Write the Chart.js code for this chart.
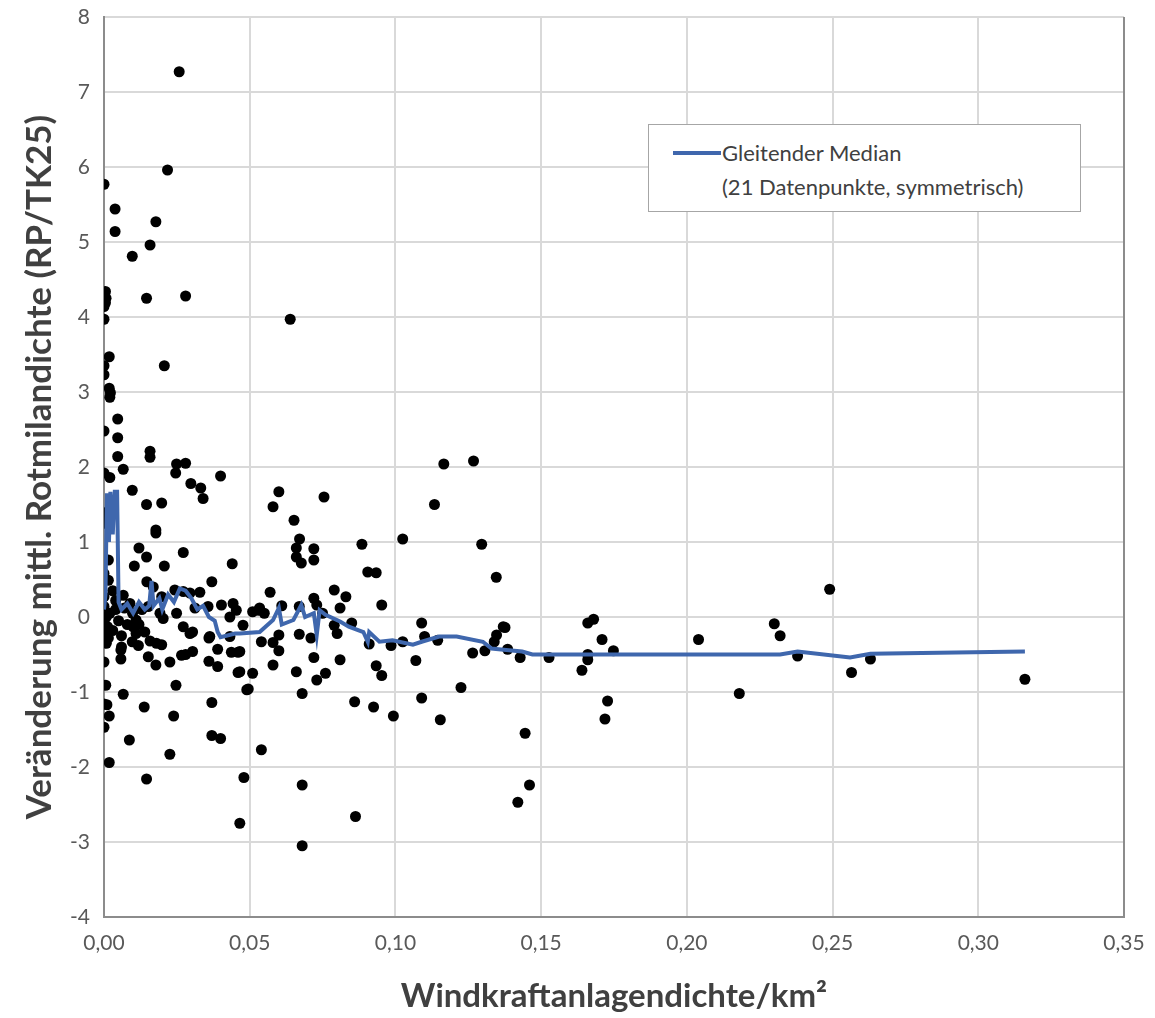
<!DOCTYPE html>
<html lang="de">

<head>
  <meta charset="UTF-8" />
  <title>Rotmilandichte vs Windkraftanlagendichte</title>
  <script src="https://cdn.jsdelivr.net/npm/chart.js"></script>
  <style>
    html, body {
      margin: 0;
      padding: 0;
      background: #ffffff;
    }

    .wrap {
      position: relative;
      width: 1155px;
      height: 1018px;
    }

    .legend {
      position: absolute;
      left: 648px;
      top: 124px;
      width: 433px;
      height: 88px;
      background: #ffffff;
      border: 1px solid #a6a6a6;
      font-family: Lato, "Open Sans", sans-serif;
      font-size: 22px;
      color: #404040;
      box-sizing: border-box;
    }

    .legend .swatch {
      position: absolute;
      left: 24px;
      top: 26px;
      width: 48px;
      height: 0;
      border-top: 4px solid #3f67ad;
    }

    .legend .text {
      position: absolute;
      left: 73px;
      top: 11px;
      line-height: 34px;
      white-space: nowrap;
    }
  </style>
</head>

<body>
  <div class="wrap">
    <canvas id="chart" width="1155" height="1018"></canvas>
    <div class="legend">
      <div class="swatch"></div>
      <div class="text">Gleitender Median<br>(21 Datenpunkte, symmetrisch)</div>
    </div>
  </div>

  <script>
    // scatter points: wind turbine density per km² vs. change in red kite density
    const densityX = [
      0.0258, 0.0218, 0.000, 0.0038, 0.0178, 0.0038, 0.0158, 0.0097, 0.0005, 0.0007,
      0.0005, 0.000, 0.0146, 0.028, 0.0639, 0.000, 0.0018, 0.000, 0.0207, 0.000,
      0.0018, 0.0022, 0.002, 0.0047, 0.000, 0.0047, 0.0047, 0.0158, 0.0158, 0.0066,
      0.0249, 0.028, 0.0246, 0.000, 0.002, 0.040, 0.0298, 0.0332, 0.034, 0.0097,
      0.0146, 0.0198, 0.000, 0.000, 0.0178, 0.0178, 0.060, 0.058, 0.0755, 0.0652,
      0.0671, 0.066, 0.066, 0.0677, 0.072, 0.072, 0.012, 0.0146, 0.0104, 0.0272,
      0.0207, 0.044, 0.037, 0.057, 0.079, 0.083, 0.1166, 0.1268, 0.1134, 0.0885,
      0.1025, 0.1296, 0.0905, 0.0934, 0.1346, 0.0953, 0.109, 0.137, 0.081, 0.085,
      0.072, 0.073, 0.051, 0.053, 0.055, 0.061, 0.067, 0.060, 0.058, 0.060,
      0.054, 0.067, 0.071, 0.080, 0.091, 0.0985, 0.1025, 0.110, 0.1145, 0.0466,
      0.0466, 0.051, 0.0495, 0.058, 0.066, 0.072, 0.073, 0.076, 0.081, 0.068,
      0.0934, 0.0953, 0.107, 0.1225, 0.109, 0.086, 0.0925, 0.0993, 0.1154, 0.1265,
      0.1307, 0.1339, 0.1347, 0.1376, 0.1385, 0.1428, 0.1527, 0.1445, 0.146, 0.142,
      0.054, 0.048, 0.068, 0.0466, 0.0863, 0.068, 0.000, 0.0058, 0.0058, 0.0006,
      0.000, 0.001, 0.0018, 0.000, 0.0066, 0.0018, 0.0087, 0.0138, 0.0146, 0.0247,
      0.0239, 0.0226, 0.037, 0.037, 0.040, 0.046, 0.049, 0.036, 0.039, 0.039,
      0.0437, 0.046, 0.0266, 0.028, 0.0304, 0.0226, 0.0178, 0.0152, 0.0097, 0.0118,
      0.0158, 0.018, 0.0198, 0.036, 0.0304, 0.0477, 0.000, 0.0015, 0.0015, 0.000,
      0.000, 0.0008, 0.000, 0.0012, 0.000, 0.0015, 0.0008, 0.0066, 0.0089, 0.0098,
      0.011, 0.010, 0.011, 0.0169, 0.0198, 0.0152, 0.0192, 0.0203, 0.0243, 0.0272,
      0.0295, 0.0329, 0.0312, 0.0249, 0.0272, 0.0295, 0.0357, 0.0403, 0.0443, 0.0454,
      0.0432, 0.0534, 0.0363, 0.0432, 0.075, 0.079, 0.003, 0.004, 0.005, 0.003,
      0.006, 0.007, 0.004, 0.008, 0.002, 0.006, 0.012, 0.013, 0.014, 0.0147,
      0.164, 0.166, 0.168, 0.166, 0.166, 0.1709, 0.1748, 0.1728, 0.1719, 0.204,
      0.218, 0.230, 0.232, 0.238, 0.249, 0.2565, 0.263, 0.316
    ];
    const changeY = [
      7.27, 5.96, 5.77, 5.44, 5.27, 5.14, 4.96, 4.81, 4.34, 4.25,
      4.19, 4.14, 4.25, 4.28, 3.97, 3.97, 3.47, 3.35, 3.35, 3.23,
      3.05, 2.99, 2.93, 2.64, 2.48, 2.39, 2.14, 2.21, 2.13, 1.97,
      2.04, 2.05, 1.92, 1.92, 1.86, 1.88, 1.78, 1.72, 1.58, 1.69,
      1.50, 1.52, 1.39, 1.25, 1.16, 1.12, 1.67, 1.47, 1.60, 1.29,
      1.04, 0.92, 0.80, 0.72, 0.91, 0.76, 0.92, 0.80, 0.68, 0.86,
      0.68, 0.71, 0.47, 0.33, 0.36, 0.27, 2.04, 2.08, 1.50, 0.97,
      1.04, 0.97, 0.60, 0.59, 0.53, 0.16, -0.08, -0.13, 0.12, -0.08,
      0.25, 0.16, 0.07, 0.09, 0.05, 0.15, 0.14, -0.24, -0.34, -0.45,
      -0.33, -0.23, -0.28, -0.22, -0.36, -0.38, -0.33, -0.26, -0.31, -0.46,
      -0.73, -0.75, -0.96, -0.64, -0.73, -0.54, -0.84, -0.75, -0.57, -1.02,
      -0.65, -0.78, -0.58, -0.94, -1.08, -1.13, -1.20, -1.32, -1.37, -0.48,
      -0.45, -0.33, -0.24, -0.14, -0.43, -0.54, -0.54, -1.55, -2.24, -2.47,
      -1.77, -2.14, -2.24, -2.75, -2.66, -3.05, -0.60, -0.44, -0.56, -0.91,
      -1.16, -1.17, -1.32, -1.47, -1.03, -1.94, -1.64, -1.20, -2.16, -0.91,
      -1.32, -1.83, -1.14, -1.58, -1.62, -0.74, -0.97, -0.59, -0.66, -0.43,
      -0.47, -0.47, -0.51, -0.50, -0.46, -0.60, -0.64, -0.53, -0.33, -0.38,
      -0.32, -0.35, -0.37, -0.28, -0.20, -0.11, 0.58, 0.76, 0.49, 0.27,
      0.14, 0.00, -0.08, -0.13, -0.22, -0.28, -0.35, 0.29, 0.18, 0.05,
      -0.04, -0.13, -0.22, 0.40, 0.27, 0.14, 0.05, -0.02, 0.36, 0.34,
      0.32, 0.33, 0.12, 0.05, -0.13, -0.22, 0.14, 0.16, 0.18, 0.09,
      0.00, 0.12, -0.26, -0.26, 0.05, -0.11, 0.35, 0.10, -0.05, -0.18,
      -0.25, 0.12, 0.22, -0.10, 0.05, -0.40, -0.10, 0.10, -0.20, 0.47,
      -0.71, -0.08, -0.03, -0.57, -0.50, -0.30, -0.45, -1.12, -1.36, -0.30,
      -1.02, -0.09, -0.25, -0.52, 0.37, -0.74, -0.56, -0.83
    ];

    // moving median (21 points, symmetric)
    const medianX = [
      0.000, 0.0005, 0.001, 0.0017, 0.0022, 0.003, 0.0037, 0.0045, 0.005, 0.006,
      0.008, 0.010, 0.012, 0.014, 0.0155, 0.0163, 0.017, 0.019, 0.020, 0.022,
      0.024, 0.026, 0.028, 0.030, 0.032, 0.034, 0.036, 0.038, 0.039, 0.040,
      0.045, 0.0466, 0.0534, 0.058, 0.060, 0.061, 0.065, 0.0677, 0.069, 0.072,
      0.073, 0.074, 0.076, 0.081, 0.084, 0.089, 0.0905, 0.091, 0.0945, 0.099,
      0.106, 0.109, 0.115, 0.121, 0.130, 0.133, 0.138, 0.1435, 0.147, 0.156,
      0.232, 0.238, 0.256, 0.263, 0.316
    ];
    const medianY = [
      0.10, 0.30, 1.65, 1.00, 1.67, 1.10, 1.67, 1.67, 0.20, 0.10,
      0.18, 0.05, 0.20, 0.10, 0.15, 0.48, 0.15, 0.25, 0.10, 0.30,
      0.20, 0.38, 0.35, 0.25, 0.10, 0.15, 0.00, -0.05, -0.20, -0.27,
      -0.22, -0.22, -0.20, -0.04, 0.12, -0.10, -0.04, 0.16, 0.00, 0.05,
      -0.24, 0.09, 0.03, -0.06, -0.13, -0.20, -0.33, -0.20, -0.33, -0.31,
      -0.37, -0.33, -0.26, -0.26, -0.33, -0.42, -0.44, -0.46, -0.50, -0.50,
      -0.50, -0.46, -0.54, -0.49, -0.46
    ];

    const xTicks = [0, 0.05, 0.10, 0.15, 0.20, 0.25, 0.30, 0.35];
    const yTicks = [-4, -3, -2, -1, 0, 1, 2, 3, 4, 5, 6, 7, 8];

    const points = densityX.map((x, i) => ({ x: x, y: changeY[i] }));
    const median = medianX.map((x, i) => ({ x: x, y: medianY[i] }));

    const font = 'Lato, "Open Sans", sans-serif';

    // right border of the plot area
    const frame = {
      id: 'frame',
      afterDraw(chart) {
        const a = chart.chartArea;
        const ctx = chart.ctx;
        ctx.save();
        ctx.strokeStyle = '#8c8c8c';
        ctx.lineWidth = 2;
        ctx.beginPath();
        ctx.moveTo(a.right, a.top);
        ctx.lineTo(a.right, a.bottom);
        ctx.stroke();
        ctx.restore();
      }
    };

    new Chart(document.getElementById('chart').getContext('2d'), {
      type: 'scatter',
      data: {
        datasets: [
          {
            label: 'Gleitender Median (21 Datenpunkte, symmetrisch)',
            data: median,
            showLine: true,
            borderColor: '#3f67ad',
            borderWidth: 4,
            pointRadius: 0,
            tension: 0
          },
          {
            label: 'Daten',
            data: points,
            backgroundColor: '#000000',
            borderColor: '#000000',
            pointRadius: 5.5,
            borderWidth: 0
          }
        ]
      },
      options: {
        responsive: false,
        animation: false,
        devicePixelRatio: 1,
        layout: { padding: { left: 19, right: 31, top: 17, bottom: 0 } },
        plugins: {
          legend: { display: false },
          tooltip: { enabled: false }
        },
        scales: {
          x: {
            type: 'linear',
            min: 0,
            max: 0.35,
            afterBuildTicks: s => { s.ticks = xTicks.map(v => ({ value: v })); },
            afterFit: s => { s.height = 101; s.paddingLeft = 0; s.paddingRight = 0; },
            grid: { color: '#d9d9d9', lineWidth: 2, tickLength: 0 },
            border: { display: true, color: '#8c8c8c', width: 2 },
            ticks: {
              padding: 14,
              color: '#595959',
              font: { family: font, size: 21 },
              callback: v => v.toFixed(2).replace('.', ',')
            },
            title: {
              display: true,
              text: 'Windkraftanlagendichte/km²',
              color: '#404040',
              font: { family: font, size: 33, weight: 'bold' },
              padding: { top: 0, bottom: 2 }
            }
          },
          y: {
            type: 'linear',
            min: -4,
            max: 8,
            afterBuildTicks: s => { s.ticks = yTicks.map(v => ({ value: v })); },
            afterFit: s => { s.width = 85; s.paddingTop = 0; s.paddingBottom = 0; },
            grid: { color: '#d9d9d9', lineWidth: 2, tickLength: 0 },
            border: { display: true, color: '#8c8c8c', width: 2 },
            ticks: {
              padding: 14,
              color: '#595959',
              font: { family: font, size: 21 },
              callback: v => String(v)
            },
            title: {
              display: true,
              text: 'Veränderung mittl. Rotmilandichte (RP/TK25)',
              color: '#404040',
              font: { family: font, size: 35, weight: 'bold' },
              padding: { top: 0, bottom: 0 }
            }
          }
        }
      },
      plugins: [frame]
    });
  </script>
</body>

</html>
